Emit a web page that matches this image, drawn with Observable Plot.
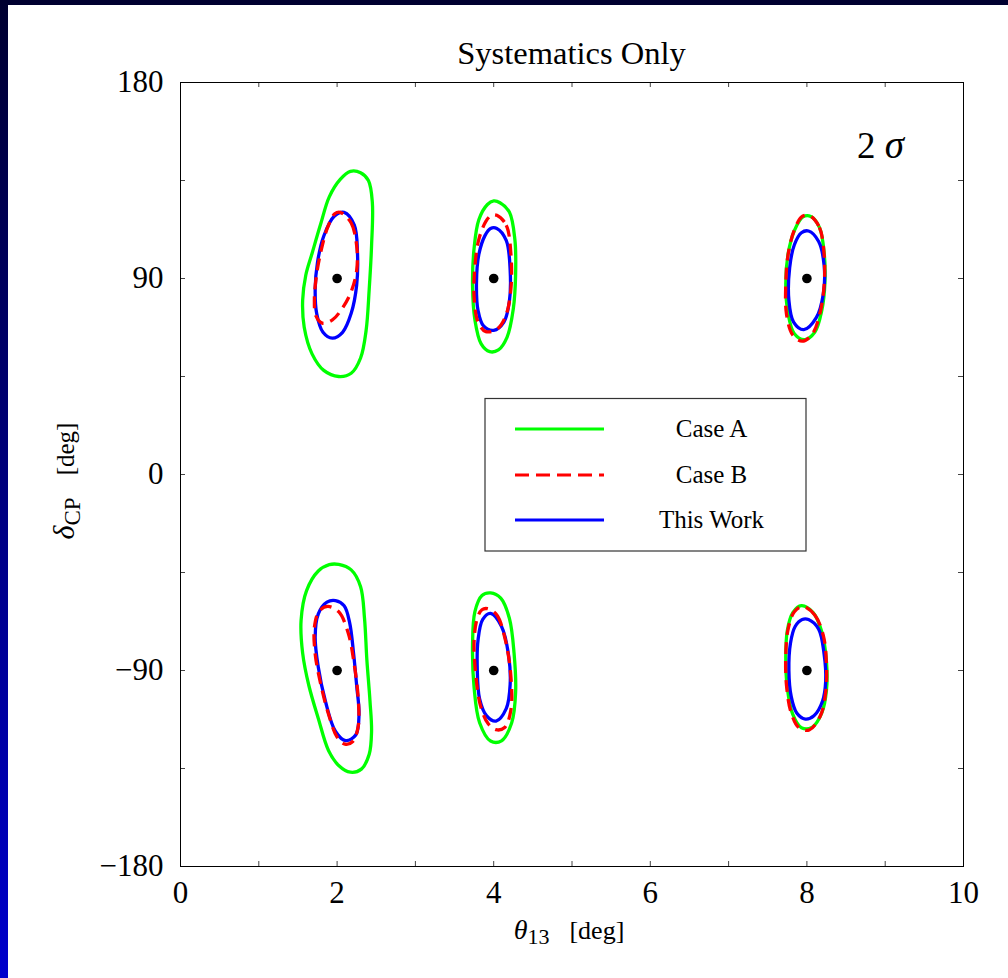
<!DOCTYPE html>
<html>
<head>
<meta charset="utf-8">
<script src="https://cdn.jsdelivr.net/npm/d3@7"></script>
<script src="https://cdn.jsdelivr.net/npm/@observablehq/plot@0.6"></script>
<style>
  html, body { margin: 0; padding: 0; }
  body { width: 1008px; height: 978px; overflow: hidden; position: relative;
         background: linear-gradient(to bottom, #000030, #0000cc); }
  #chart { position: absolute; left: 8px; top: 5px; width: 1000px; height: 973px; background: white; }
  #chart svg { display: block; }
</style>
</head>
<body>
<div id="chart"></div>
<script>
// ---- tick values / labels ----
const xTicks = [0, 1, 2, 3, 4, 5, 6, 7, 8, 9, 10];
const xLabels = [0, 2, 4, 6, 8, 10];
const yTicks = [-180, -135, -90, -45, 0, 45, 90, 135, 180];
const yLabels = [-180, -90, 0, 90, 180];

// ---- series ----
const seriesNames = ["Case A", "Case B", "This Work"];

// ---- best-fit points (theta13, deltaCP) ----
const bestFit = [[2, 90], [4, 90], [8, 90], [2, -90], [4, -90], [8, -90]];

// ---- contours, Case A (green) ----
const A_2_p90 = [[2.30,138.6],[2.40,135.0],[2.45,125.0],[2.44,105.0],[2.41,85.0],[2.37,66.0],[2.30,53.5],[2.18,46.5],[2.02,45.0],[1.83,47.8],[1.68,55.4],[1.58,67.6],[1.56,80.0],[1.60,91.5],[1.68,101.5],[1.79,115.0],[1.90,127.5],[2.04,135.5],[2.17,139.2]];
const A_4_p90 = [[4.08,124.8],[4.20,120.5],[4.27,108.0],[4.28,92.0],[4.25,76.0],[4.17,63.0],[4.06,57.2],[3.95,56.4],[3.84,60.0],[3.76,71.0],[3.73,87.0],[3.75,104.0],[3.81,117.0],[3.92,124.0],[4.00,125.6]];
const A_8_p90 = [[8.05,118.5],[8.16,113.5],[8.22,102.0],[8.23,88.0],[8.19,75.3],[8.10,65.3],[7.97,61.9],[7.84,64.6],[7.76,73.8],[7.73,87.6],[7.76,101.3],[7.84,112.0],[7.95,118.3]];
const A_2_m90 = [[2.02,-41.3],[2.18,-43.8],[2.30,-51.5],[2.35,-66.0],[2.38,-85.0],[2.42,-104.0],[2.44,-118.0],[2.41,-128.5],[2.31,-135.3],[2.17,-136.7],[2.02,-133.6],[1.89,-126.7],[1.76,-112.0],[1.64,-97.0],[1.56,-82.0],[1.54,-67.0],[1.61,-53.3],[1.76,-44.3],[1.90,-41.4]];
const A_4_m90 = [[3.96,-54.4],[4.09,-56.8],[4.20,-66.0],[4.26,-82.0],[4.28,-100.0],[4.23,-114.0],[4.10,-122.3],[3.96,-122.4],[3.82,-114.0],[3.75,-98.0],[3.73,-78.0],[3.76,-63.0],[3.85,-55.6]];
const A_8_m90 = [[7.93,-60.2],[8.08,-63.4],[8.19,-72.2],[8.25,-86.0],[8.25,-99.0],[8.19,-109.5],[8.07,-116.0],[7.93,-116.3],[7.82,-110.2],[7.75,-98.0],[7.73,-84.0],[7.75,-71.6],[7.82,-63.4]];

// ---- contours, Case B (red dashed) ----
const B_2_p90 = [[2.04,120.4],[2.18,115.5],[2.25,105.0],[2.25,93.7],[2.18,84.0],[2.07,76.5],[1.94,71.0],[1.81,69.5],[1.73,72.8],[1.71,80.5],[1.74,92.2],[1.80,103.5],[1.88,113.6],[1.97,119.7]];
const B_4_p90 = [[4.04,119.0],[4.16,114.5],[4.22,101.0],[4.22,85.5],[4.16,73.5],[4.05,67.0],[3.90,65.6],[3.80,70.0],[3.75,81.4],[3.76,95.5],[3.81,108.0],[3.90,116.2],[3.97,119.0]];
const B_8_p90 = [[8.04,118.8],[8.16,113.5],[8.22,101.0],[8.22,87.0],[8.17,74.5],[8.07,64.5],[7.94,61.2],[7.82,64.0],[7.74,73.5],[7.73,87.0],[7.76,101.0],[7.84,112.3],[7.94,118.5]];
const B_2_m90 = [[1.88,-60.6],[2.02,-63.0],[2.14,-72.5],[2.22,-87.5],[2.27,-103.0],[2.27,-115.5],[2.20,-122.6],[2.10,-123.8],[2.00,-120.6],[1.89,-110.0],[1.79,-96.1],[1.72,-82.3],[1.71,-70.1],[1.77,-62.8]];
const B_4_m90 = [[3.92,-61.6],[4.04,-64.5],[4.15,-76.2],[4.22,-93.0],[4.22,-108.0],[4.14,-116.2],[4.03,-117.2],[3.93,-114.5],[3.83,-106.0],[3.77,-91.5],[3.75,-76.2],[3.79,-66.0],[3.85,-62.1]];
const B_8_m90 = [[7.95,-60.6],[8.10,-64.5],[8.21,-74.0],[8.25,-87.5],[8.24,-100.0],[8.17,-111.0],[8.03,-117.3],[7.90,-116.3],[7.80,-109.5],[7.74,-97.0],[7.73,-83.0],[7.76,-71.0],[7.84,-63.0]];

// ---- contours, This Work (blue) ----
const C_2_p90 = [[2.09,120.4],[2.22,114.5],[2.26,102.0],[2.25,87.0],[2.18,74.0],[2.07,65.3],[1.94,62.6],[1.82,65.3],[1.74,73.8],[1.72,85.0],[1.75,97.5],[1.83,109.5],[1.96,118.5]];
const C_4_p90 = [[4.04,113.0],[4.16,107.5],[4.21,94.0],[4.20,79.5],[4.13,70.0],[4.00,66.2],[3.87,68.2],[3.80,75.3],[3.78,88.0],[3.81,101.0],[3.89,109.8],[3.96,113.0]];
const C_8_p90 = [[8.02,111.8],[8.15,107.0],[8.22,96.0],[8.21,83.0],[8.12,72.0],[7.96,66.5],[7.83,70.0],[7.77,80.0],[7.78,95.0],[7.84,105.5],[7.93,111.0]];
const C_2_m90 = [[1.98,-57.9],[2.09,-60.3],[2.16,-68.0],[2.21,-82.0],[2.25,-97.0],[2.28,-110.0],[2.24,-119.5],[2.11,-122.2],[1.98,-118.0],[1.85,-104.0],[1.76,-88.5],[1.72,-74.7],[1.76,-64.0],[1.87,-58.6]];
const C_4_m90 = [[3.96,-63.8],[4.10,-69.8],[4.19,-83.0],[4.21,-96.5],[4.16,-107.5],[4.03,-113.2],[3.91,-110.8],[3.82,-103.0],[3.79,-89.0],[3.80,-76.0],[3.86,-66.5]];
const C_8_m90 = [[8.02,-66.6],[8.15,-71.0],[8.22,-82.5],[8.24,-95.0],[8.20,-104.0],[8.09,-110.8],[7.98,-112.3],[7.87,-109.5],[7.80,-102.0],[7.77,-90.0],[7.79,-77.5],[7.85,-69.8],[7.94,-66.6]];

// ---- build table ----
const contourSets = [
  {series: "Case A", list: [A_2_p90, A_4_p90, A_8_p90, A_2_m90, A_4_m90, A_8_m90]},
  {series: "Case B", list: [B_2_p90, B_4_p90, B_8_p90, B_2_m90, B_4_m90, B_8_m90]},
  {series: "This Work", list: [C_2_p90, C_4_p90, C_8_p90, C_2_m90, C_4_m90, C_8_m90]}
];
const rows = contourSets.flatMap(s => s.list.flatMap((pts, i) =>
  pts.map(([x, y]) => ({x, y, series: s.series, id: s.series + i}))));

const style = {
  "Case A":    {stroke: "#00ff00", dash: null},
  "Case B":    {stroke: "#ff0000", dash: "12,7"},
  "This Work": {stroke: "#0000ff", dash: null}
};
const fmt = d => (d < 0 ? "\u2212" + Math.abs(d) : String(d));
const FONT = "'Liberation Serif','Times New Roman',Times,serif";

const lineMark = name => Plot.line(rows.filter(r => r.series === name), {
  x: "x", y: "y", z: "id", curve: "catmull-rom-closed",
  stroke: style[name].stroke, strokeWidth: 3.3, strokeDasharray: style[name].dash,
  strokeLinecap: "butt"
});

const chart = Plot.plot({
  width: 1000, height: 973,
  marginLeft: 172, marginRight: 45, marginTop: 77, marginBottom: 112,
  x: {domain: [0, 10]},
  y: {domain: [-180, 180]},
  style: {fontFamily: FONT, background: "white", color: "black"},
  marks: [
    Plot.tickX(xTicks, {x: d => d, insetTop: 779, stroke: "#444"}),
    Plot.tickX(xTicks, {x: d => d, insetBottom: 779, stroke: "#444"}),
    Plot.tickY(yTicks, {y: d => d, insetLeft: 778, stroke: "#444"}),
    Plot.tickY(yTicks, {y: d => d, insetRight: 778, stroke: "#444"}),
    Plot.frame({stroke: "black", strokeWidth: 1}),
    Plot.axisX({ticks: xLabels, tickSize: 0, tickPadding: 14, fontSize: 31, label: null, tickFormat: fmt}),
    Plot.axisY({ticks: yLabels, tickSize: 0, tickPadding: 17, fontSize: 31, label: null, tickFormat: fmt}),
    lineMark("Case A"),
    lineMark("This Work"),
    lineMark("Case B"),
    Plot.dot(bestFit, {x: d => d[0], y: d => d[1], r: 4.8, fill: "black", stroke: "none"})
  ]
});

document.getElementById("chart").appendChild(chart);
const svg = d3.select(chart);

// title
svg.append("text").attr("x", 563.5).attr("y", 59).attr("text-anchor", "middle")
  .attr("font-family", FONT).attr("font-size", 32.5).attr("fill", "black")
  .text("Systematics Only");

// x label
const xl = svg.append("text").attr("x", 561).attr("y", 934).attr("text-anchor", "middle")
  .attr("font-family", FONT).attr("font-size", 26).attr("fill", "black");
xl.append("tspan").attr("font-style", "italic").attr("font-size", 28).text("θ");
xl.append("tspan").attr("font-size", 22).attr("dy", 5).text("13");
xl.append("tspan").attr("dy", -5).attr("dx", 20).text("[deg]");

// y label
const yl = svg.append("text").attr("transform", "translate(66,476) rotate(-90)")
  .attr("text-anchor", "middle").attr("font-family", FONT).attr("font-size", 25).attr("fill", "black");
yl.append("tspan").attr("font-style", "italic").attr("font-size", 30).text("δ");
yl.append("tspan").attr("font-size", 23).attr("dy", 6).text("CP");
yl.append("tspan").attr("dy", -6).attr("dx", 22).text("[deg]");

// 2 sigma
const sg = svg.append("text").attr("x", 849).attr("y", 153).attr("text-anchor", "start")
  .attr("font-family", FONT).attr("font-size", 37).attr("fill", "black");
sg.append("tspan").text("2 ");
sg.append("tspan").attr("font-style", "italic").attr("font-size", 39).text("σ");

// legend
const lg = svg.append("g");
lg.append("rect").attr("x", 477).attr("y", 393.5).attr("width", 321).attr("height", 152.5)
  .attr("fill", "white").attr("stroke", "#333").attr("stroke-width", 1.2);
const legendY = [424, 470, 515];
seriesNames.forEach((name, i) => {
  lg.append("line").attr("x1", 507).attr("x2", 596).attr("y1", legendY[i]).attr("y2", legendY[i])
    .attr("stroke", style[name].stroke).attr("stroke-width", 3)
    .attr("stroke-dasharray", style[name].dash ? "14,7" : null);
  lg.append("text").attr("x", 703.5).attr("y", legendY[i] + 8).attr("text-anchor", "middle")
    .attr("font-family", FONT).attr("font-size", 25).attr("fill", "black").text(name);
});
</script>
</body>
</html>
